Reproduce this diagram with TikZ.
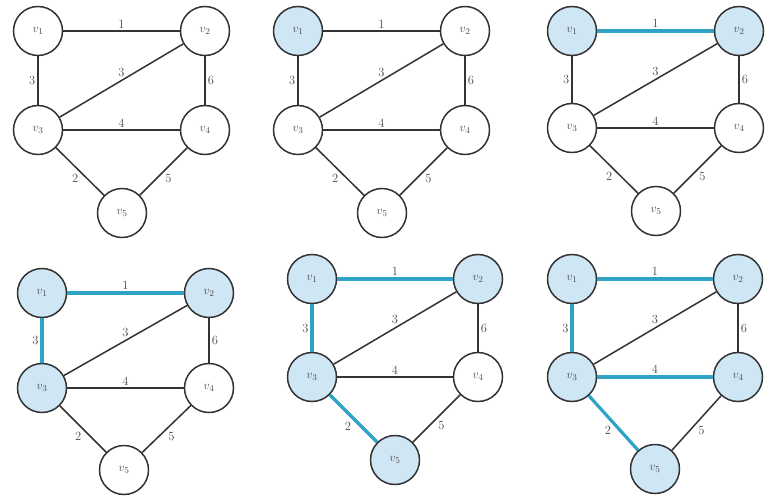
\documentclass[tikz,border=0pt]{standalone}
\usepackage{tikz}
\definecolor{ink}{HTML}{333333}
\definecolor{txt}{HTML}{4A4A4A}
\definecolor{vfill}{HTML}{CFE6F4}
\definecolor{hl}{HTML}{2FA3C6}
\tikzset{
  vert/.style={circle, draw=ink, line width=1.5pt, minimum size=49pt, inner sep=0pt, text=txt, font=\fontsize{13}{15}\selectfont},
  plainv/.style={vert, fill=white},
  hlv/.style={vert, fill=vfill},
  blackedge/.style={draw=ink, line width=1.5pt},
  hledge/.style={draw=hl, line width=3.2pt},
  wlab/.style={text=txt, inner sep=2pt, font=\fontsize{12.5}{14}\selectfont},
  nA/.style={plainv}, nB/.style={plainv}, nC/.style={plainv}, nD/.style={plainv}, nE/.style={plainv},
  eAB/.style={blackedge}, eAC/.style={blackedge}, eBC/.style={blackedge}, eBD/.style={blackedge}, eCD/.style={blackedge}, eCE/.style={blackedge}, eDE/.style={blackedge}
}
% #1 prefix, #2 v1x, #3 v1y, #4 v2x, #5 v3y, #6 v5x, #7 v5y
\newcommand{\mstpanel}[7]{%
  \node[nA] (#1a) at (#2,#3) {$v_1$};
  \node[nB] (#1b) at (#4,#3) {$v_2$};
  \node[nC] (#1c) at (#2,#5) {$v_3$};
  \node[nD] (#1d) at (#4,#5) {$v_4$};
  \node[nE] (#1e) at (#6,#7) {$v_5$};
  \path[eAB] (#1a) -- node[wlab, midway, above] {1} (#1b);
  \path[eAC] (#1a) -- node[wlab, midway, left] {3} (#1c);
  \path[eBC] (#1c) -- node[wlab, midway, above, yshift=1pt] {3} (#1b);
  \path[eBD] (#1b) -- node[wlab, midway, right] {6} (#1d);
  \path[eCD] (#1c) -- node[wlab, midway, above] {4} (#1d);
  \path[eCE] (#1c) -- node[wlab, midway, below left, xshift=1pt] {2} (#1e);
  \path[eDE] (#1d) -- node[wlab, midway, below right, xshift=-1pt] {5} (#1e);
}
\begin{document}
\begin{tikzpicture}[x=1pt, y=-1pt]
\useasboundingbox (0,0) rectangle (781,497);
\fill[white] (0,0) rectangle (781,497);
\begin{scope}
  \mstpanel{p}{38}{31}{205}{130}{122}{213}
\end{scope}
\begin{scope}[nA/.style={hlv}]
  \mstpanel{q}{298}{31}{465}{130}{382}{213}
\end{scope}
\begin{scope}[nA/.style={hlv}, nB/.style={hlv}, eAB/.style={hledge}]
  \mstpanel{r}{572}{31}{739}{128}{656}{211}
\end{scope}
\begin{scope}[nA/.style={hlv}, nB/.style={hlv}, nC/.style={hlv}, eAB/.style={hledge}, eAC/.style={hledge}]
  \mstpanel{s}{42}{293}{209}{388}{124}{470}
\end{scope}
\begin{scope}[nA/.style={hlv}, nB/.style={hlv}, nC/.style={hlv}, nE/.style={hlv}, eAB/.style={hledge}, eAC/.style={hledge}, eCE/.style={hledge}]
  \mstpanel{t}{312}{279}{478}{377}{395}{460}
\end{scope}
\begin{scope}[nA/.style={hlv}, nB/.style={hlv}, nC/.style={hlv}, nD/.style={hlv}, nE/.style={hlv}, eAB/.style={hledge}, eAC/.style={hledge}, eCE/.style={hledge}, eCD/.style={hledge}]
  \mstpanel{u}{572}{279}{738}{377}{655}{469}
\end{scope}
\end{tikzpicture}
\end{document}
